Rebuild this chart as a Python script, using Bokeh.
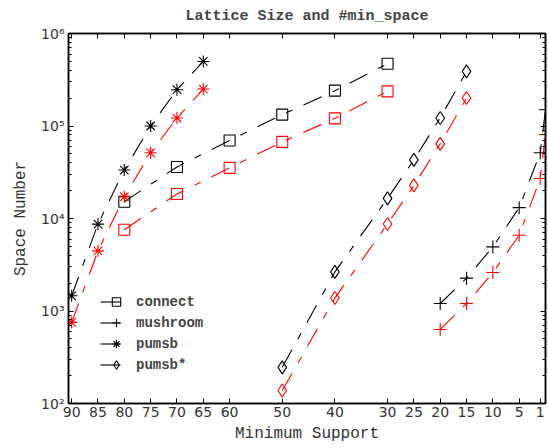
from bokeh.plotting import figure
from bokeh.models import (Range1d, FixedTicker, LinearAxis, LogAxis, Legend, LegendItem)
from bokeh.embed import file_html
from bokeh.resources import INLINE

# ---- data ----
x_ticks = [90, 85, 80, 75, 70, 65, 60, 50, 40, 30, 25, 20, 15, 10, 5, 1]
y_ticks = [100, 1000, 10000, 100000, 1000000]
y_tick_labels = ["10²", "10³", "10⁴", "10⁵", "10⁶"]

connect_x = [80, 70, 60, 50, 40, 30]
connect_lattice = [15200, 36100, 69700, 132800, 241000, 471000]
connect_min = [7570, 18400, 35300, 67300, 121000, 237000]

mushroom_x = [20, 15, 10, 5, 1, 0]
mushroom_lattice = [1205, 2265, 4930, 13100, 51300, 150000]
mushroom_min = [632, 1205, 2605, 6590, 27100, 80900]

pumsb_x = [90, 85, 80, 75, 70, 65]
pumsb_lattice = [1460, 8700, 33400, 100000, 247000, 499000]
pumsb_min = [753, 4470, 17100, 51300, 122000, 251000]

pumsbstar_x = [50, 40, 30, 25, 20, 15]
pumsbstar_lattice = [246, 2650, 16500, 43000, 122000, 389000]
pumsbstar_min = [138, 1380, 8730, 22800, 64100, 201000]

series = [
    ("connect", connect_x, connect_lattice, connect_min, "square", 11),
    ("mushroom", mushroom_x, mushroom_lattice, mushroom_min, "cross", 13),
    ("pumsb", pumsb_x, pumsb_lattice, pumsb_min, "asterisk", 12),
    ("pumsb*", pumsbstar_x, pumsbstar_lattice, pumsbstar_min, "diamond", 13),
]

MONO = "Liberation Mono"
SANS = "DejaVu Sans"

p = figure(width=548, height=448, output_backend="svg", toolbar_location=None,
           y_axis_type="log", x_range=Range1d(90.6, 0), y_range=Range1d(100, 1e6),
           min_border_left=68, min_border_right=1, min_border_top=32, min_border_bottom=45)

p.title.text = "Lattice Size and #min_space"
p.title.text_font = MONO
p.title.text_font_style = "bold"
p.title.text_font_size = "15px"
p.title.align = "center"
p.title.standoff = 10

p.xgrid.visible = False
p.ygrid.visible = False
p.outline_line_color = "black"
p.outline_line_width = 1.5

minor_y = [m * 10 ** e for e in range(2, 6) for m in range(2, 10)]

# main axes
xa = p.xaxis[0]
xa.ticker = FixedTicker(ticks=x_ticks, minor_ticks=[])
xa.axis_label = "Minimum Support"
ya = p.yaxis[0]
ya.ticker = FixedTicker(ticks=y_ticks, minor_ticks=minor_y)
ya.major_label_overrides = {t: l for t, l in zip(y_ticks, y_tick_labels)}
ya.axis_label = "Space Number"

for ax in (xa, ya):
    ax.axis_line_width = 1.5
    ax.major_tick_in = 5
    ax.major_tick_out = 0
    ax.minor_tick_in = 3
    ax.minor_tick_out = 0
    ax.major_label_text_font = SANS
    ax.major_label_text_font_size = "14px"
    ax.major_label_text_color = "#333333"
    ax.axis_label_text_font = MONO
    ax.axis_label_text_font_style = "normal"
    ax.axis_label_text_font_size = "16px"
    ax.axis_label_text_color = "#333333"
xa.major_label_standoff = 3
xa.axis_label_standoff = 5
ya.major_label_standoff = 4
ya.axis_label_standoff = 8

# mirrored axes (ticks only)
top = LinearAxis(ticker=FixedTicker(ticks=x_ticks, minor_ticks=[]))
top.major_label_overrides = {t: " " for t in x_ticks}
right = LogAxis(ticker=FixedTicker(ticks=y_ticks, minor_ticks=minor_y))
right.major_label_overrides = {t: " " for t in y_ticks}
for ax in (top, right):
    ax.axis_line_width = 1.5
    ax.major_tick_in = 5
    ax.major_tick_out = 0
    ax.minor_tick_in = 3
    ax.minor_tick_out = 0
    ax.major_label_text_font_size = "1px"
    ax.major_label_standoff = 0
    ax.axis_label_standoff = 0
p.add_layout(top, "above")
p.add_layout(right, "right")

DASH = "20 12 7 12"
items = []
for name, xs, lat, mn, marker, size in series:
    l1 = p.line(xs, lat, line_color="black", line_width=1.1, line_dash=DASH)
    s1 = p.scatter(xs, lat, marker=marker, size=size, fill_color=None,
                   line_color="black", line_width=1.1)
    p.line(xs, mn, line_color="red", line_width=1.1, line_dash=DASH)
    p.scatter(xs, mn, marker=marker, size=size, fill_color=None,
              line_color="red", line_width=1.1)
    items.append(LegendItem(label=name, renderers=[l1, s1]))

legend = Legend(items=items, location=(32, 28), border_line_color=None,
                background_fill_alpha=0, padding=0, margin=0, spacing=0,
                glyph_width=32, glyph_height=21, label_height=21,
                label_standoff=4, label_text_font=MONO,
                label_text_font_style="bold", label_text_font_size="14px")
p.add_layout(legend)

open("out.html", "w").write(file_html(p, INLINE))
